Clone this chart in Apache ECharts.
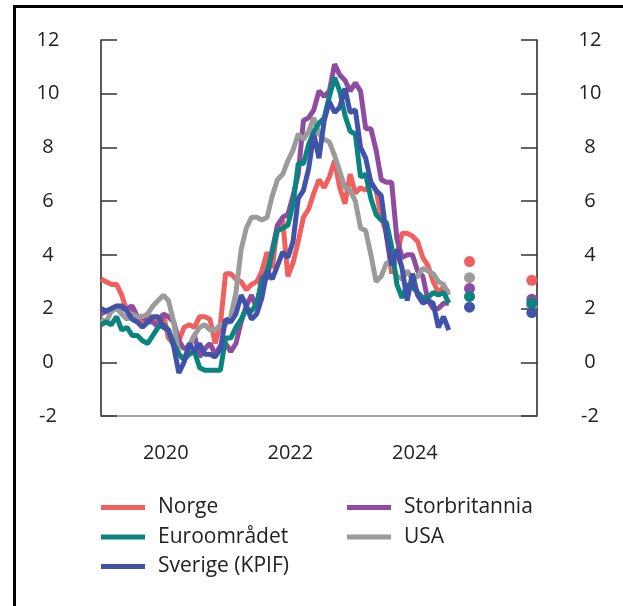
<!DOCTYPE html>
<html>
<head>
<meta charset="utf-8">
<script src="https://cdn.jsdelivr.net/npm/echarts@6/dist/echarts.min.js"></script>
<style>
  html, body { margin: 0; padding: 0; background: #fff; overflow: hidden; }
  #chart { width: 623px; height: 606px; position: absolute; left: 0; top: 0; }
  #frame { position: absolute; left: 13px; top: 5px; width: 800px; height: 800px;
           border-left: 3px solid #000; border-top: 3px solid #000; pointer-events: none; }
</style>
</head>
<body>
<div id="chart"></div>
<div id="frame"></div>
<script>
// Months since Jan 2019 (0 = Jan 2019), monthly values Jan 2019 - Aug 2024
const startYear = 2019;
const norge = [3.1,3.0,2.9,2.9,2.5,1.9,1.9,1.6,1.5,1.8,1.6,1.4,
  1.8,0.9,0.7,0.8,1.3,1.4,1.3,1.7,1.7,1.6,0.7,1.4,
  3.3,3.3,3.1,3.0,2.7,2.9,3.0,3.4,4.1,3.5,5.1,5.3,
  3.2,3.7,4.5,5.4,5.7,6.3,6.8,6.5,6.9,7.5,6.5,5.9,
  7.0,6.3,6.5,6.4,6.7,6.4,5.4,4.8,3.3,4.0,4.8,4.8,
  4.7,4.5,3.9,3.6,3.0,2.6,2.8,2.6];
const euro = [1.4,1.5,1.4,1.7,1.2,1.3,1.0,1.0,0.8,0.7,1.0,1.3,
  1.4,1.2,0.7,0.3,0.1,0.3,0.4,-0.2,-0.3,-0.3,-0.3,-0.3,
  0.9,0.9,1.3,1.6,2.0,1.9,2.2,3.0,3.4,4.1,4.9,5.0,
  5.1,5.9,7.4,7.4,8.1,8.6,8.9,9.1,9.9,10.6,10.1,9.2,
  8.6,8.5,6.9,7.0,6.1,5.5,5.3,5.2,4.3,2.9,2.4,2.9,
  2.8,2.6,2.4,2.4,2.6,2.5,2.6,2.2];
const sverige = [2.0,1.9,2.0,2.1,2.1,1.9,1.6,1.5,1.3,1.5,1.7,1.7,
  1.3,1.2,0.6,-0.4,0.0,0.7,0.4,0.7,0.3,0.3,0.2,0.5,
  1.6,1.5,1.8,2.5,2.1,1.6,1.8,2.4,3.4,3.1,3.6,4.1,
  3.9,4.5,6.1,6.4,7.2,8.5,7.6,9.0,9.7,9.3,9.5,10.2,
  9.3,9.4,8.0,7.6,6.7,6.4,6.2,4.7,3.6,4.2,3.5,2.3,
  3.3,2.5,2.2,2.3,2.2,1.3,1.7,1.2];
const storbritannia = [1.8,1.9,1.9,2.1,2.0,2.0,2.1,1.7,1.7,1.5,1.5,1.3,
  1.8,1.7,1.5,0.8,0.5,0.6,1.0,0.2,0.5,0.7,0.3,0.6,
  0.7,0.4,0.7,1.5,2.1,2.5,2.0,3.2,3.1,4.2,5.1,5.4,
  5.5,6.2,7.0,9.0,9.1,9.4,10.1,9.9,10.1,11.1,10.7,10.5,
  10.1,10.4,10.1,8.7,8.7,7.9,6.8,6.7,6.7,4.6,3.9,4.0,
  4.0,3.4,3.2,2.3,2.0,2.0,2.2,2.2];
const usa = [1.6,1.5,1.9,2.0,1.8,1.6,1.8,1.7,1.7,1.8,2.1,2.3,
  2.5,2.3,1.5,0.3,0.1,0.6,1.0,1.3,1.4,1.2,1.2,1.4,
  1.4,1.7,2.6,4.2,5.0,5.4,5.4,5.3,5.4,6.2,6.8,7.0,
  7.5,7.9,8.5,8.3,8.6,9.1,8.5,8.3,8.2,7.7,7.1,6.5,
  6.4,6.0,5.0,4.9,4.0,3.0,3.2,3.7,3.7,3.2,3.1,3.4,
  3.1,3.2,3.5,3.4,3.3,3.0,2.9,2.5];
// Forecast dots (placed at Dec 2024 and Dec 2025)
const forecastMonths = [71, 83];
const norgeF = [3.75, 3.05];
const euroF = [2.45, 2.2];
const sverigeF = [2.05, 1.85];
const storbritanniaF = [2.75, 2.35];
const usaF = [3.15, 2.1];
// Axis labels
const xTickMonths = [12, 36, 60];
const xTickLabels = ['2020', '2022', '2024'];

const colors = {
  'Norge': '#f0605f',
  'Euroområdet': '#0a847f',
  'Sverige (KPIF)': '#3f53a8',
  'Storbritannia': '#8e4b9f',
  'USA': '#9b9b9b'
};
const FONT = 'Open Sans';

function toPairs(arr) { return arr.map((v, i) => [i, v]); }
function fPairs(arr) { return arr.map((v, i) => [forecastMonths[i], v]); }

function lineSeries(name, arr) {
  return { name, type: 'line', data: toPairs(arr), showSymbol: false, symbol: 'none',
    lineStyle: { width: 5, color: colors[name] }, itemStyle: { color: colors[name] },
    emphasis: { disabled: true }, animation: false };
}
function dotSeries(name, arr) {
  return { name: name + ' anslag', type: 'scatter', data: fPairs(arr), symbolSize: 11,
    itemStyle: { color: colors[name], opacity: 1 }, clip: false, z: 3, animation: false,
    emphasis: { disabled: true } };
}

const chart = echarts.init(document.getElementById('chart'), null, { renderer: 'canvas' });
const yAxisCommon = {
  type: 'value', min: -2, max: 12, interval: 2,
  splitLine: { show: false },
  axisLine: { show: true, onZero: false, lineStyle: { color: '#222', width: 1.5 } },
  axisTick: { show: true, inside: true, length: 16, lineStyle: { color: '#333', width: 1.5 } },
  axisLabel: { color: '#222', fontFamily: FONT, fontSize: 20, margin: 53, align: 'center' }
};
const legendCommon = {
  orient: 'vertical', icon: 'rect', itemWidth: 44, itemHeight: 5, itemGap: 8.5, padding: 0,
  textStyle: { fontFamily: FONT, fontSize: 21, color: '#222', padding: [0, 0, 0, 8], lineHeight: 21 },
  selectedMode: false
};
chart.setOption({
  animation: false,
  backgroundColor: '#fff',
  grid: { left: 101, right: 86, top: 40, bottom: 190, containLabel: false },
  xAxis: {
    type: 'value', min: 0, max: 84,
    splitLine: { show: false },
    axisLine: { show: true, onZero: false, lineStyle: { color: '#888', width: 1.5 } },
    axisTick: { show: false },
    axisLabel: {
      customValues: xTickMonths,
      formatter: (v) => xTickLabels[xTickMonths.indexOf(v)] || '',
      color: '#222', fontFamily: FONT, fontSize: 20, margin: 27, padding: [0, 0, 0, 5]
    }
  },
  yAxis: [
    Object.assign({}, yAxisCommon, { position: 'left' }),
    Object.assign({}, yAxisCommon, { position: 'right' })
  ],
  legend: [
    Object.assign({}, legendCommon, { left: 101, top: 497, data: ['Norge', 'Euroområdet', 'Sverige (KPIF)'] }),
    Object.assign({}, legendCommon, { left: 347, top: 497, data: ['Storbritannia', 'USA'] })
  ],
  series: [
    lineSeries('Norge', norge),
    lineSeries('Storbritannia', storbritannia),
    lineSeries('USA', usa),
    lineSeries('Euroområdet', euro),
    lineSeries('Sverige (KPIF)', sverige),
    dotSeries('Norge', norgeF),
    dotSeries('USA', usaF),
    dotSeries('Storbritannia', storbritanniaF),
    dotSeries('Euroområdet', euroF),
    dotSeries('Sverige (KPIF)', sverigeF)
  ]
});
</script>
</body>
</html>
